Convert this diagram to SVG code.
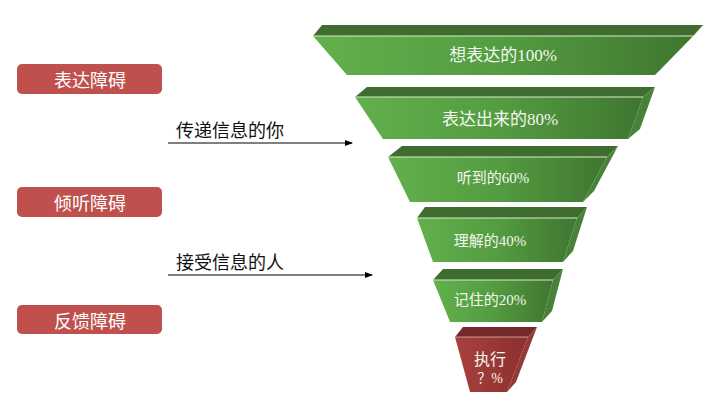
<svg xmlns="http://www.w3.org/2000/svg" width="720" height="405" viewBox="0 0 720 405">
<defs>
<linearGradient id="gFront" x1="0" y1="0" x2="1" y2="0">
<stop offset="0" stop-color="#62b04c"/>
<stop offset="0.5" stop-color="#549c41"/>
<stop offset="1" stop-color="#3f7630"/>
</linearGradient>
<linearGradient id="rFront" x1="0" y1="0" x2="1" y2="0">
<stop offset="0" stop-color="#a8403d"/>
<stop offset="1" stop-color="#8c302e"/>
</linearGradient>
<marker id="arr" markerWidth="8" markerHeight="6" refX="7" refY="3" orient="auto" markerUnits="userSpaceOnUse">
<path d="M0,0 L8,3 L0,6 Z" fill="#000"/>
</marker>
<style>
.front{fill:url(#gFront)}
.top{fill:#3f6c2f}
.side{fill:#478238}
.edge{fill:none;stroke:#d8ecc9;stroke-width:1}
.rfront{fill:url(#rFront)}
.rtop{fill:#76292a}
.rside{fill:#93393a}
.redge{fill:none;stroke:#e2b5b3;stroke-width:0.8}
.ft{font-family:"Liberation Serif","Noto Sans CJK SC",serif;fill:#f3f7f0;text-anchor:middle;dominant-baseline:central}
.lb{fill:#c0504d}
.lt{font-family:"Noto Sans CJK SC",sans-serif;font-size:18px;fill:#fff;text-anchor:middle;dominant-baseline:central}
.at{font-family:"Noto Sans CJK SC",sans-serif;font-size:18px;fill:#111;dominant-baseline:central}
.ln{stroke:#000;stroke-width:1.2;fill:none}
</style>
</defs>

<g id="seg1">
<polygon class="top" points="322,25 703,25 693,36 313,36"/>
<polygon class="side" points="703,25 693,36 655,75 665,64"/>
<polygon class="front" points="313,36 693,36 655,75 347,75"/>
<line class="edge" x1="313" y1="36" x2="693" y2="36"/>
<text class="ft" x="503" y="55" font-size="17">想表达的100%</text>
</g>

<g id="seg2">
<polygon class="top" points="367,87 655,87 643,97 355,97"/>
<polygon class="side" points="655,87 643,97 628,139 640,129"/>
<polygon class="front" points="355,97 643,97 628,139 383,139"/>
<line class="edge" x1="355" y1="97" x2="643" y2="97"/>
<text class="ft" x="500" y="119" font-size="17">表达出来的80%</text>
</g>

<g id="seg3">
<polygon class="top" points="402,146 618,146 607,157 388,157"/>
<polygon class="side" points="618,146 607,157 583,202 594,191"/>
<polygon class="front" points="388,157 607,157 583,202 410,202"/>
<line class="edge" x1="388" y1="157" x2="607" y2="157"/>
<text class="ft" x="493" y="178" font-size="15">听到的60%</text>
</g>

<g id="seg4">
<polygon class="top" points="425,207 587,207 577,218 417,218"/>
<polygon class="side" points="587,207 577,218 563,262 573,251"/>
<polygon class="front" points="417,218 577,218 563,262 433,262"/>
<line class="edge" x1="417" y1="218" x2="577" y2="218"/>
<text class="ft" x="490" y="241" font-size="15">理解的40%</text>
</g>

<g id="seg5">
<polygon class="top" points="443,269 563,269 553,280 433,280"/>
<polygon class="side" points="563,269 553,280 542,322 552,311"/>
<polygon class="front" points="433,280 553,280 542,322 450,322"/>
<line class="edge" x1="433" y1="280" x2="553" y2="280"/>
<text class="ft" x="490" y="300" font-size="15">记住的20%</text>
</g>

<g id="seg6">
<polygon class="rtop" points="463,327 537,327 528,337 455,337"/>
<polygon class="rside" points="537,327 528,337 507,392 516,382"/>
<polygon class="rfront" points="455,337 528,337 507,392 470,392"/>
<line class="redge" x1="455" y1="337" x2="528" y2="337"/>
<text class="ft" x="490" y="359" font-size="16">执行</text>
<text class="ft" x="490" y="378" font-size="14">？%</text>
</g>

<g id="lbl1">
<rect class="lb" x="17" y="64" width="145" height="30" rx="5"/>
<text class="lt" x="90" y="79">表达障碍</text>
</g>
<g id="lbl2">
<rect class="lb" x="17" y="187" width="145" height="30" rx="5"/>
<text class="lt" x="90" y="202">倾听障碍</text>
</g>
<g id="lbl3">
<rect class="lb" x="17" y="305" width="145" height="29" rx="5"/>
<text class="lt" x="90" y="320">反馈障碍</text>
</g>

<g id="connectors">
<line class="ln" x1="168" y1="143" x2="352" y2="143" marker-end="url(#arr)"/>
<text class="at" x="176" y="129">传递信息的你</text>
<line class="ln" x1="168" y1="275" x2="372" y2="275" marker-end="url(#arr)"/>
<text class="at" x="176" y="261">接受信息的人</text>
</g>
</svg>
